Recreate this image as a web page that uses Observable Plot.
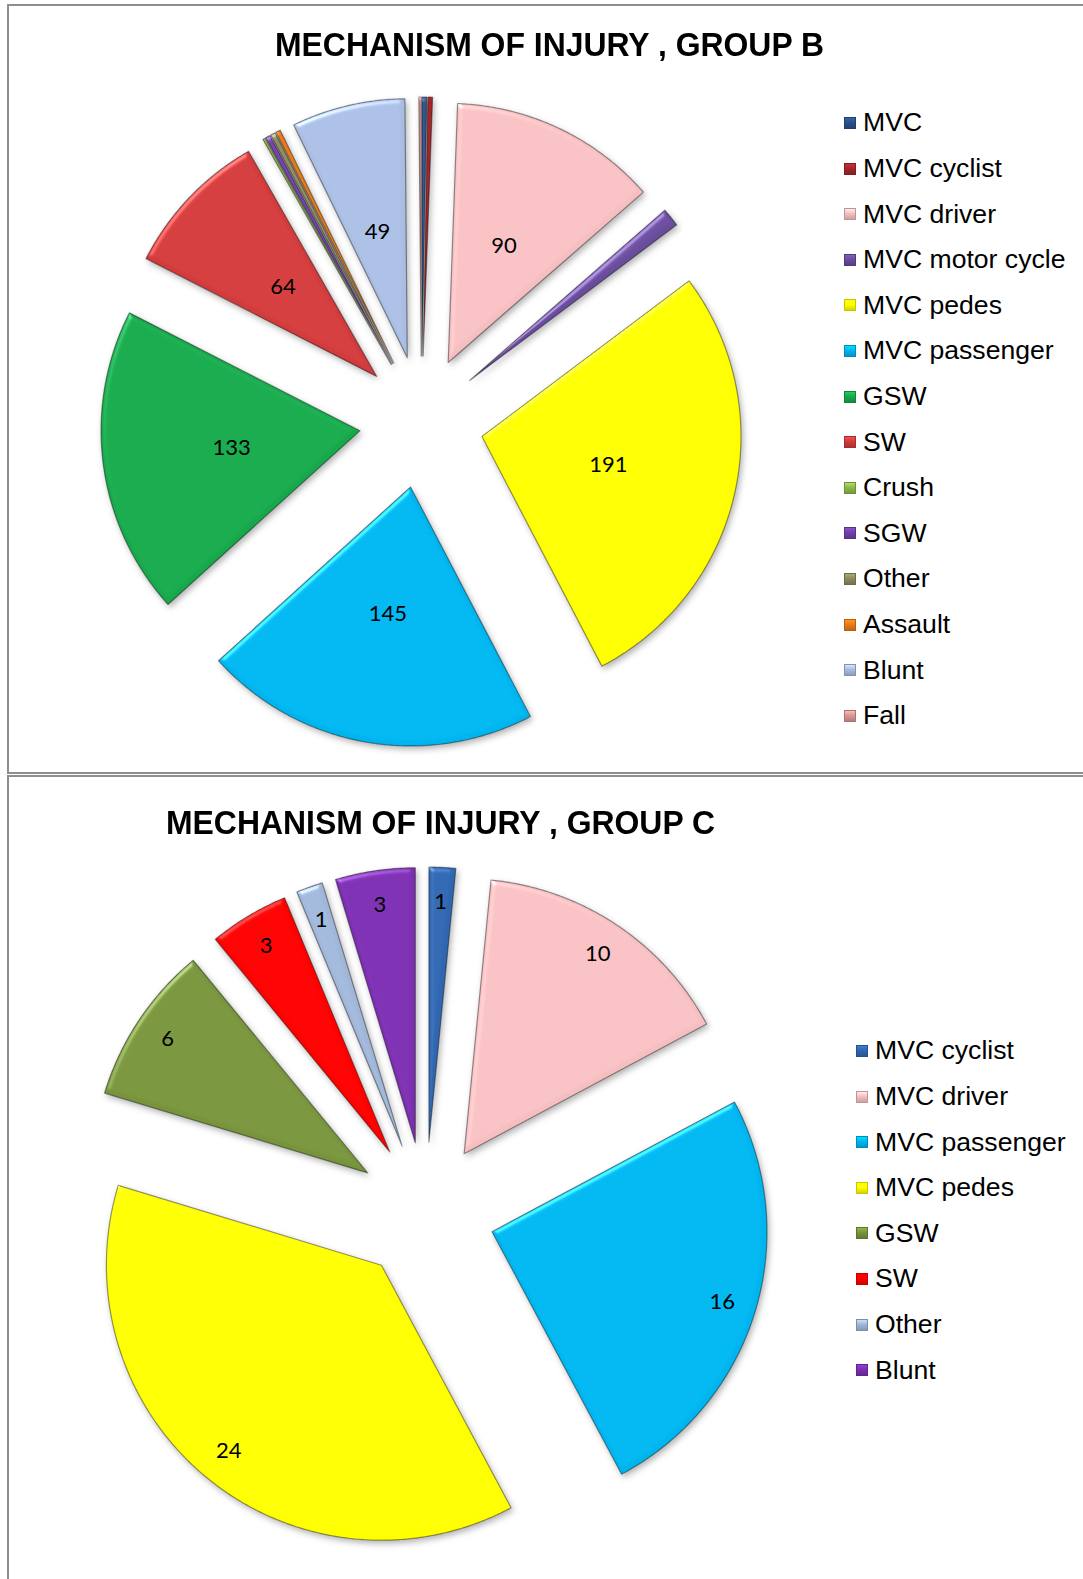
<!DOCTYPE html>
<html>
<head>
<meta charset="utf-8">
<script src="https://cdn.jsdelivr.net/npm/d3@7"></script>
<script src="https://cdn.jsdelivr.net/npm/@observablehq/plot@0.6"></script>
<style>
html,body{margin:0;padding:0;background:#fff;width:1083px;height:1579px;overflow:hidden;position:relative;font-family:"Liberation Sans",Arial,sans-serif}
.frame{position:absolute;border:2px solid #8e8e8e;box-sizing:border-box;pointer-events:none;z-index:5;background:transparent}
.title{position:absolute;white-space:nowrap;font-weight:bold;font-size:34px;line-height:1;color:#000;transform-origin:left top;font-family:"Liberation Sans Narrow","Liberation Sans",Arial,sans-serif}
.legend{position:absolute;font-size:26.6px;color:#000;font-family:"Liberation Sans",Arial,sans-serif;z-index:3}
.legend .item{display:flex;align-items:center;height:45.6px;white-space:nowrap}
.legend .sw{width:12px;height:12px;margin-right:7px;flex:none;box-sizing:border-box}
.chart{position:absolute;left:0}
</style>
</head>
<body>
<script>
// ---------- DATA ----------
const titleB = "MECHANISM OF INJURY , GROUP B";
const categoriesB = ["MVC","MVC cyclist","MVC driver","MVC motor cycle","MVC pedes","MVC passenger","GSW","SW","Crush","SGW","Other","Assault","Blunt","Fall"];
const valuesB     = [2, 2, 90, 8, 191, 145, 133, 64, 1, 2, 2, 2, 49, 1];
const colorsB     = ["#2B4F8A","#A3262B","#F5BFC1","#6A4C9C","#FFFF00","#00B4EE","#17A84B","#D13B3B","#8DB84A","#7040A8","#8C8A5E","#E87A1B","#A9BCE2","#D99694"];

const titleC = "MECHANISM OF INJURY , GROUP C";
const categoriesC = ["MVC cyclist","MVC driver","MVC passenger","MVC pedes","GSW","SW","Other","Blunt"];
const valuesC     = [1, 10, 16, 24, 6, 3, 1, 3];
const colorsC     = ["#3066B0","#F5BFC1","#00B4EE","#FFFF00","#77933C","#FF0000","#A0B6D8","#7B2FB0"];

// ---------- LAYOUT ----------
const W = 1083, H = 1579;

function frame(left, top, width, height) {
  const f = document.createElement("div");
  f.className = "frame";
  Object.assign(f.style, {left: left + "px", top: top + "px", width: width + "px", height: height + "px"});
  document.body.appendChild(f);
}

function title(text, left, top, targetWidth) {
  const s = document.createElement("div");
  s.className = "title";
  s.textContent = text;
  s.style.left = left + "px";
  s.style.top = top + "px";
  document.body.appendChild(s);
  const w = s.getBoundingClientRect().width;
  s.style.transform = `scaleX(${targetWidth / w})`;
}

function legend(cats, colors, left, top) {
  const L = document.createElement("div");
  L.className = "legend";
  L.style.left = left + "px";
  L.style.top = top + "px";
  cats.forEach((c, i) => {
    const it = document.createElement("div");
    it.className = "item";
    const sw = document.createElement("span");
    sw.className = "sw";
    const col = d3.color(colors[i]);
    sw.style.background = `linear-gradient(to bottom, ${col.brighter(0.6)} 0%, ${col} 45%, ${col.darker(0.5)} 100%)`;
    sw.style.border = `1px solid ${col.darker(0.7)}`;
    const t = document.createElement("span");
    t.textContent = c;
    it.appendChild(sw); it.appendChild(t);
    L.appendChild(it);
  });
  document.body.appendChild(L);
}

const NS = "http://www.w3.org/2000/svg";
function addBevel(svg, id) {
  const defs = document.createElementNS(NS, "defs");
  defs.innerHTML = `
  <filter id="${id}" x="-5%" y="-5%" width="112%" height="112%" color-interpolation-filters="sRGB">
    <feGaussianBlur in="SourceAlpha" stdDeviation="2.5" result="blur"/>
    <feSpecularLighting in="blur" surfaceScale="2.5" specularConstant="0.6" specularExponent="28" lighting-color="#ffffff" result="spec">
      <feDistantLight azimuth="235" elevation="40"/>
    </feSpecularLighting>
    <feComposite in="spec" in2="SourceAlpha" operator="in" result="specIn"/>
    <feComposite in="SourceGraphic" in2="specIn" operator="arithmetic" k1="0" k2="1" k3="0.5" k4="0" result="lit"/>
    <feOffset in="SourceAlpha" dx="2" dy="3" result="off"/>
    <feGaussianBlur in="off" stdDeviation="3" result="offBlur"/>
    <feFlood flood-color="#000" flood-opacity="0.3"/>
    <feComposite in2="offBlur" operator="in" result="shadow"/>
    <feMerge><feMergeNode in="shadow"/><feMergeNode in="lit"/></feMerge>
  </filter>`;
  svg.insertBefore(defs, svg.firstChild);
}

function pieChart({id, cats, vals, colors, cx, cy, R, explodeX, explodeY, labelR, minLabel, svgTop, svgHeight}) {
  const slices = d3.pie().sort(null).value(d => d.value)(cats.map((c, i) => ({category: c, value: vals[i]})));
  const pts = [], labels = [];
  for (const s of slices) {
    const c = s.data.category;
    const mid = (s.startAngle + s.endAngle) / 2;
    const ax = explodeX * Math.sin(mid), ay = -explodeY * Math.cos(mid);
    pts.push({category: c, x: ax, y: ay});
    const n = Math.max(2, Math.ceil((s.endAngle - s.startAngle) / (Math.PI / 360)));
    for (let k = 0; k <= n; k++) {
      const a = s.startAngle + (s.endAngle - s.startAngle) * k / n;
      pts.push({category: c, x: ax + Math.sin(a), y: ay - Math.cos(a)});
    }
    if (s.data.value >= minLabel)
      labels.push({category: c, value: s.data.value, x: ax + labelR * Math.sin(mid), y: ay - labelR * Math.cos(mid)});
  }
  const chart = Plot.plot({
    width: W, height: svgHeight, margin: 0,
    style: {background: "transparent", overflow: "visible"},
    x: {domain: [-1, 1], range: [cx - R, cx + R], axis: null},
    y: {domain: [-1, 1], range: [cy - svgTop - R, cy - svgTop + R], axis: null},
    color: {domain: cats, range: colors},
    marks: [
      Plot.line(pts, {x: "x", y: "y", z: "category", fill: "category", stroke: "rgba(0,0,0,0.4)", strokeWidth: 1.2, curve: "linear-closed"}),
      Plot.text(labels, {x: "x", y: "y", text: d => String(d.value), fill: "#000", fontSize: 22, fontFamily: "Lato, 'Open Sans', sans-serif", textAnchor: "middle", lineAnchor: "middle"})
    ]
  });
  chart.classList.add("chart");
  chart.style.top = svgTop + "px";
  chart.style.maxWidth = "none";
  addBevel(chart, id);
  const g = chart.querySelector('g[aria-label="line"]');
  if (g) g.setAttribute("filter", `url(#${id})`);
  document.body.appendChild(chart);
}

// Group B
pieChart({id: "bevelB", cats: categoriesB, vals: valuesB, colors: colorsB, cx: 421, cy: 421.5, R: 259, explodeX: 62 / 259, explodeY: 66 / 259, labelR: 0.5, minLabel: 10, svgTop: 0, svgHeight: 772});
// Group C
pieChart({id: "bevelC", cats: categoriesC, vals: valuesC, colors: colorsC, cx: 425, cy: 1211, R: 275, explodeX: 69.5 / 275, explodeY: 69.5 / 275, labelR: 0.875, minLabel: 0, svgTop: 776, svgHeight: 803});

frame(7, 4, 1090, 770);
frame(7, 775, 1090, 820);

title(titleB, 275, 26.5, 549);
title(titleC, 166, 805, 549);

legend(categoriesB, colorsB, 844, 100.2);
legend(categoriesC, colorsC, 856, 1028.2);
</script>
</body>
</html>
